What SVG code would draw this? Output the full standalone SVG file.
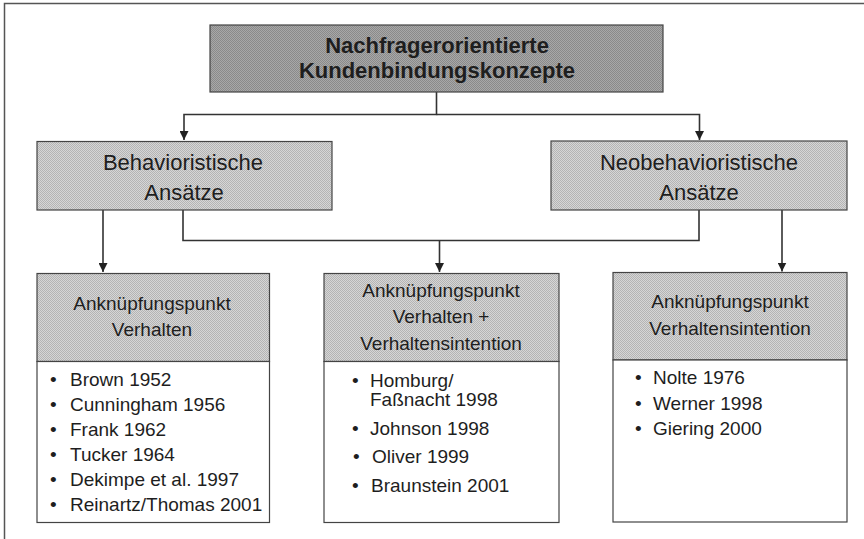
<svg xmlns="http://www.w3.org/2000/svg" width="864" height="539" viewBox="0 0 864 539">
  <style>
    .frame { fill: none; stroke: #555; stroke-width: 1.5; }
    .box { stroke: #444; stroke-width: 1.2; }
    .dark { fill: url(#dotsDark); }
    .light { fill: url(#dotsLight); }
    .list { fill: #fff; stroke: #444; stroke-width: 1.2; }
    .conn { fill: none; stroke: #333; stroke-width: 1.6; }
    text { font-family: "Liberation Sans", Arial, sans-serif; fill: #1e1e1e; }
    .title { font-size: 22px; font-weight: bold; text-anchor: middle; }
    .lvl2 { font-size: 22px; text-anchor: middle; }
    .head { font-size: 19px; text-anchor: middle; }
    .item { font-size: 19px; }
  </style>
  <defs>
    <pattern id="dotsDark" width="2" height="2" patternUnits="userSpaceOnUse">
      <rect width="2" height="2" fill="#a8a8a8"/>
      <rect width="1" height="1" fill="#8a8a8a"/>
      <rect x="1" y="1" width="1" height="1" fill="#8a8a8a"/>
    </pattern>
    <pattern id="dotsLight" width="2" height="2" patternUnits="userSpaceOnUse">
      <rect width="2" height="2" fill="#d6d6d6"/>
      <rect width="1" height="1" fill="#b4b4b4"/>
      <rect x="1" y="1" width="1" height="1" fill="#b4b4b4"/>
    </pattern>
    <marker id="arrow" viewBox="0 0 10 10" refX="10" refY="5" markerWidth="9" markerHeight="9" markerUnits="userSpaceOnUse" orient="auto">
      <path d="M0,0 L10,5 L0,10 z" fill="#222"/>
    </marker>
  </defs>

  <!-- page frame: top and left edges -->
  <path class="frame" d="M4.5,539 V3.5 H864"/>

  <!-- connectors -->
  <g id="connectors">
    <path class="conn" d="M436.5,92 V114.5 H184 V140" marker-end="url(#arrow)"/>
    <path class="conn" d="M436.5,114.5 H699.5 V140" marker-end="url(#arrow)"/>
    <path class="conn" d="M103,210 V272" marker-end="url(#arrow)"/>
    <path class="conn" d="M183,210 V240.5 H699 V210"/>
    <path class="conn" d="M439.5,240.5 V272" marker-end="url(#arrow)"/>
    <path class="conn" d="M782,210 V271.5" marker-end="url(#arrow)"/>
  </g>

  <g id="root">
    <rect class="box dark" x="210" y="25" width="453" height="67"/>
    <text class="title" x="437" y="53">Nachfragerorientierte</text>
    <text class="title" x="437" y="78">Kundenbindungskonzepte</text>
  </g>

  <g id="behavioristisch">
    <rect class="box light" x="37" y="141.5" width="295" height="68.5"/>
    <text class="lvl2" x="183" y="170">Behavioristische</text>
    <text class="lvl2" x="184" y="200">Ansätze</text>
  </g>

  <g id="neobehavioristisch">
    <rect class="box light" x="551" y="141" width="296" height="69"/>
    <text class="lvl2" x="699" y="170">Neobehavioristische</text>
    <text class="lvl2" x="699" y="200">Ansätze</text>
  </g>

  <g id="verhalten">
    <rect class="box light" x="37" y="273.5" width="232.5" height="88"/>
    <rect class="list" x="37" y="361.5" width="232.5" height="161"/>
    <text class="head" x="152" y="310">Anknüpfungspunkt</text>
    <text class="head" x="152" y="336">Verhalten</text>
    <g class="item">
      <text x="50" y="386">•</text><text x="70" y="386">Brown 1952</text>
      <text x="50" y="411">•</text><text x="70" y="411">Cunningham 1956</text>
      <text x="50" y="436">•</text><text x="70" y="436">Frank 1962</text>
      <text x="50" y="461">•</text><text x="70" y="461">Tucker 1964</text>
      <text x="50" y="486">•</text><text x="70" y="486">Dekimpe et al. 1997</text>
      <text x="50" y="511">•</text><text x="70" y="511">Reinartz/Thomas 2001</text>
    </g>
  </g>

  <g id="verhalten-intention">
    <rect class="box light" x="324" y="273.5" width="235" height="88"/>
    <rect class="list" x="324" y="361.5" width="235" height="161"/>
    <text class="head" x="441" y="297">Anknüpfungspunkt</text>
    <text class="head" x="441" y="323">Verhalten +</text>
    <text class="head" x="441" y="350">Verhaltensintention</text>
    <g class="item">
      <text x="352" y="387">•</text><text x="370" y="387">Homburg/</text>
      <text x="370" y="406">Faßnacht 1998</text>
      <text x="352" y="435">•</text><text x="370" y="435">Johnson 1998</text>
      <text x="353" y="463">•</text><text x="372" y="463">Oliver 1999</text>
      <text x="352" y="492">•</text><text x="371" y="492">Braunstein 2001</text>
    </g>
  </g>

  <g id="intention">
    <rect class="box light" x="613" y="272.5" width="234" height="87.5"/>
    <rect class="list" x="613" y="360" width="234" height="162"/>
    <text class="head" x="730" y="308">Anknüpfungspunkt</text>
    <text class="head" x="730" y="335">Verhaltensintention</text>
    <g class="item">
      <text x="635" y="384">•</text><text x="653" y="384">Nolte 1976</text>
      <text x="635" y="410">•</text><text x="653" y="410">Werner 1998</text>
      <text x="635" y="435">•</text><text x="653" y="435">Giering 2000</text>
    </g>
  </g>
</svg>
